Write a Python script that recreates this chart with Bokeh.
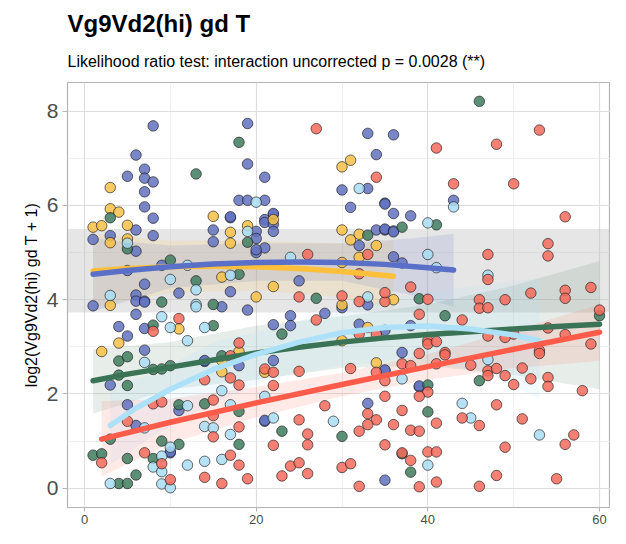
from bokeh.plotting import figure
from bokeh.models import Title, FixedTicker, BoxAnnotation, Range1d
from bokeh.embed import file_html
from bokeh.resources import INLINE

# ---------------- data ----------------
red_x = [27,34,26,33,32,38,41,53,48,43,50,56,54,54,47,47,52,56,56,59,46,49,
         11,8,18,17,14,17,18,15,8,9,15,5,15,18,7,2,9,17,18,10,14,16,19,
         25,30,32,35,35,40,39,27,32,34,40,40,42,39,21,22,25,31,34,35,37,38,41,22,40,39,35,28,33,37,34,33,36,25,26,32,38,39,41,22,26,35,40,41,37,38,24,25,23,26,30,31,32,39,41,
         46,47,60,44,54,56,47,49,50,53,53,59,41,42,45,47,47,48,49,50,51,52,54,54,58,48,44,46,51,57,56,49,48,46,55]
red_y = [7.63,6.60,4.96,4.96,4.55,4.27,7.22,7.60,7.30,6.46,6.46,5.76,5.19,4.93,4.96,4.43,4.14,4.20,4.03,4.26,4.00,4.00,
         3.60,3.33,3.08,2.81,2.30,2.34,2.19,1.87,1.79,1.83,1.54,1.42,1.09,1.30,0.75,0.54,0.52,0.70,0.49,0.18,0.23,0.10,0.20,
         4.06,4.08,3.96,3.96,4.15,4.01,3.69,3.57,3.27,3.27,3.13,3.06,2.88,2.86,2.53,2.46,2.48,2.54,2.46,2.28,2.64,2.60,2.64,2.18,2.04,1.95,1.95,1.75,1.58,1.65,1.45,1.35,1.35,1.45,1.15,1.21,1.23,1.21,1.38,0.91,0.92,0.92,0.77,0.77,0.75,0.59,0.47,0.54,0.26,0.31,0.44,0.52,0.04,0.03,0.13,
         3.82,3.83,3.78,3.57,3.40,3.26,3.23,3.20,3.27,2.92,2.86,3.06,3.11,2.83,2.61,2.49,2.39,2.54,2.39,2.20,2.55,2.32,2.35,2.16,2.07,1.77,1.49,1.33,1.47,1.13,0.93,0.87,0.27,0.04,0.20]

blue_x = [8,6,19,7,5,7,8,7,7,8,6,1,3,6,8,19,18,19,17,17,15,15,20,9,5,7,11,17,6,
          33,36,34,21,30,33,21,31,35,35,36,38,22,22,21,21,22,20,22,20,21,20,34,35,35,36,36,32,36,37,25,43,
          1,6,7,7,16,19,6,4,5,7,7,14,14,18,3,5,11,6,10,10,
          33,30,24,28,22,24,32,35,38,37,22,35,35,39,39,33,21,21,35]
blue_y = [7.69,7.07,7.74,6.77,6.62,6.58,6.50,6.29,5.97,5.73,5.48,5.28,5.36,5.03,5.36,6.88,6.11,6.11,5.74,5.76,5.48,5.23,5.00,4.73,4.62,4.33,4.14,4.17,4.10,
          7.53,7.50,7.08,6.60,6.33,6.36,6.11,5.96,6.05,6.03,5.83,5.78,5.81,5.83,5.70,5.64,5.60,5.45,5.45,5.30,5.10,5.06,5.48,5.48,5.50,5.46,5.44,5.15,4.91,4.78,4.40,6.11,
          3.87,3.97,3.97,3.95,3.85,3.78,3.69,3.43,3.23,3.39,2.93,2.69,2.71,2.60,2.19,1.77,1.65,1.33,0.75,0.77,
          3.89,3.83,3.66,3.71,3.47,3.45,3.48,3.35,3.45,2.88,2.71,2.49,2.51,2.15,2.17,1.80,1.42,1.44,0.17]

yellow_x = [3,3,4,1,2,5,3,5,15,17,17,19,16,20,30,31,22,30,31,32,34,32,30,22,36,3,11,4,2,16,18,16,30,30,33,34,21]
yellow_y = [6.38,5.93,5.86,5.54,5.57,5.58,5.21,5.29,5.77,5.43,5.20,5.57,4.48,4.06,6.82,6.96,5.70,5.48,5.27,5.39,5.15,4.90,4.79,4.28,4.00,3.88,3.38,3.08,2.90,2.71,2.90,2.47,3.13,3.89,3.41,2.66,2.46]

lblue_x = [5,20,19,12,17,10,13,3,32,40,24,40,41,33,43,47,13,13,9,10,14,12,7,16,12,17,7,14,15,17,10,9,8,9,12,14,16,3,9,10,37,21,22,29,40,47,44,45,53]
lblue_y = [5.20,6.07,5.45,4.73,4.52,4.43,4.21,4.09,6.36,5.63,4.90,4.96,4.68,4.06,5.97,4.52,3.90,3.85,3.64,3.41,3.41,3.13,2.67,2.07,1.75,1.77,1.28,1.31,1.28,1.14,0.87,0.68,0.45,0.35,0.49,0.57,0.61,0.10,0.09,0.01,2.32,1.95,1.49,1.42,0.49,2.73,1.80,1.49,1.13]

green_x = [18,13,3,5,19,10,18,13,33,37,41,27,39,46,9,15,8,15,4,5,8,9,10,16,4,5,11,14,18,3,9,11,18,1,2,5,8,6,4,5,42,23,40,23,30,37,38,40,60,46]
green_y = [7.34,6.67,5.74,5.08,5.22,4.84,4.54,4.40,5.37,5.54,5.59,4.03,4.02,8.21,3.95,3.90,3.46,3.45,2.70,2.79,2.52,2.53,2.60,2.81,2.40,2.18,1.77,1.79,1.63,1.04,1.00,0.93,0.93,0.70,0.73,0.63,0.63,0.28,0.10,0.10,3.66,3.27,2.19,1.21,1.10,0.73,0.34,1.62,3.66,2.28]

# fitted curves and confidence ribbons
blue_fit_x = [1, 5, 10, 15, 20, 25, 30, 35, 40, 43]
blue_fit_y = [4.54, 4.62, 4.70, 4.76, 4.79, 4.80, 4.79, 4.75, 4.68, 4.63]
blue_rib_x = [1, 10, 20, 30, 38, 43]
blue_rib_lo = [3.75, 4.25, 4.40, 4.40, 4.10, 3.85]
blue_rib_hi = [5.30, 5.15, 5.20, 5.20, 5.30, 5.40]

yellow_fit_x = [1, 5, 10, 15, 20, 25, 30, 36]
yellow_fit_y = [4.61, 4.66, 4.70, 4.71, 4.70, 4.66, 4.60, 4.50]
yellow_rib_x = [1, 10, 20, 30, 36]
yellow_rib_lo = [3.85, 4.15, 4.20, 4.05, 3.80]
yellow_rib_hi = [5.40, 5.25, 5.25, 5.20, 5.25]

green_fit_x = [1, 5, 10, 15, 20, 25, 30, 35, 40, 45, 50, 55, 60]
green_fit_y = [2.28, 2.42, 2.57, 2.72, 2.87, 2.99, 3.10, 3.19, 3.26, 3.32, 3.38, 3.43, 3.48]
green_rib_x = [1, 10, 20, 30, 40, 50, 60]
green_rib_lo = [1.58, 2.10, 2.30, 2.55, 2.60, 2.40, 2.10]
green_rib_hi = [2.95, 3.10, 3.45, 3.65, 3.90, 4.30, 4.82]

lblue_fit_x = [3, 6, 10, 15, 20, 25, 30, 35, 40, 45, 50, 53]
lblue_fit_y = [1.33, 1.70, 2.10, 2.52, 2.84, 3.10, 3.30, 3.41, 3.44, 3.38, 3.25, 3.13]
lblue_rib_x = [3, 8, 15, 22, 30, 38, 46, 53]
lblue_rib_lo = [0.50, 1.10, 1.80, 2.35, 2.60, 2.75, 2.50, 1.90]
lblue_rib_hi = [2.20, 2.40, 3.10, 3.40, 3.80, 4.10, 4.30, 4.45]

red_fit_x = [2, 10, 20, 30, 40, 50, 60]
red_fit_y = [1.04, 1.40, 1.81, 2.20, 2.58, 2.95, 3.31]
red_rib_x = [2, 10, 20, 30, 40, 50, 60]
red_rib_lo = [0.25, 0.95, 1.50, 1.95, 2.30, 2.55, 2.70]
red_rib_hi = [1.85, 1.90, 2.15, 2.45, 2.85, 3.35, 3.90]

band_bottom = 3.73
band_top = 5.50

x_ticks = [0, 20, 40, 60]
x_minor = [10, 30, 50]
y_ticks = [0, 2, 4, 6, 8]
y_minor = [1, 3, 5, 7]

title_text = "Vg9Vd2(hi) gd T"
subtitle_text = "Likelihood ratio test: interaction uncorrected  p = 0.0028 (**)"
ylabel_text = "log2(Vg9Vd2(hi) gd T + 1)"

# ---------------- colours ----------------
C_RED, L_RED = "#F46A5A", "#FF5B4A"
C_BLUE, L_BLUE = "#6272BF", "#5A6FC7"
C_YEL, L_YEL = "#F8C145", "#FEBF3A"
C_LB, L_LB = "#A9DDF3", "#ADE1F9"
C_GRN, L_GRN = "#3F7D5E", "#3A7356"

FONT = "Liberation Sans"

p = figure(width=610, height=528, output_backend="svg", toolbar_location=None,
           title=None,
           x_range=Range1d(-1.98, 61.28), y_range=Range1d(-0.41, 8.61),
           min_border_left=67, min_border_right=0, min_border_bottom=21, min_border_top=82)

p.add_layout(Title(text=subtitle_text, text_font_size="16px", text_font_style="normal",
                   text_font=FONT, text_color="black", align="left", standoff=25), "above")
p.add_layout(Title(text=title_text, text_font_size="24px", text_font_style="bold",
                   text_font=FONT, text_color="black", align="left", standoff=4), "above")

p.background_fill_color = "white"
p.border_fill_color = "white"
p.outline_line_color = "#B3B3B3"
p.outline_line_width = 1.2

p.xaxis.ticker = FixedTicker(ticks=x_ticks, minor_ticks=x_minor)
p.yaxis.ticker = FixedTicker(ticks=y_ticks, minor_ticks=y_minor)
for ax in (p.xaxis, p.yaxis):
    ax.axis_line_color = None
    ax.major_tick_line_color = "#B3B3B3"
    ax.major_tick_out = 5
    ax.major_tick_in = 0
    ax.minor_tick_line_color = None
    ax.major_label_text_color = "#4D4D4D"
    ax.major_label_text_font = FONT
p.xaxis.major_tick_out = 4
p.xaxis.major_label_text_font_size = "13px"
p.xaxis.major_label_standoff = 3
p.yaxis.major_label_text_font_size = "21px"
p.yaxis.major_label_standoff = 4
p.yaxis.axis_label = ylabel_text
p.yaxis.axis_label_text_font = FONT
p.yaxis.axis_label_text_font_size = "16px"
p.yaxis.axis_label_text_font_style = "normal"
p.yaxis.axis_label_text_color = "black"
p.yaxis.axis_label_standoff = 4

for g in (p.xgrid, p.ygrid):
    g.grid_line_color = "#DEDEDE"
    g.grid_line_width = 1.2
    g.minor_grid_line_color = "#EBEBEB"
    g.minor_grid_line_width = 0.8

band = BoxAnnotation(bottom=band_bottom, top=band_top, fill_color="#BDBDBD",
                     fill_alpha=0.38, line_color=None, level="underlay")
p.add_layout(band)

# ribbons
p.varea(x=yellow_rib_x, y1=yellow_rib_lo, y2=yellow_rib_hi, fill_color=L_YEL, fill_alpha=0.14)
p.varea(x=blue_rib_x, y1=blue_rib_lo, y2=blue_rib_hi, fill_color=L_BLUE, fill_alpha=0.14)
p.varea(x=green_rib_x, y1=green_rib_lo, y2=green_rib_hi, fill_color=L_GRN, fill_alpha=0.12)
p.varea(x=lblue_rib_x, y1=lblue_rib_lo, y2=lblue_rib_hi, fill_color=L_LB, fill_alpha=0.16)
p.varea(x=red_rib_x, y1=red_rib_lo, y2=red_rib_hi, fill_color=L_RED, fill_alpha=0.13)

# points
for xs, ys, c in ((blue_x, blue_y, C_BLUE), (yellow_x, yellow_y, C_YEL),
                  (green_x, green_y, C_GRN), (lblue_x, lblue_y, C_LB),
                  (red_x, red_y, C_RED)):
    p.scatter(xs, ys, size=10.5, fill_color=c, fill_alpha=0.85,
              line_color="#1A1A1A", line_alpha=0.65, line_width=1)

# fitted lines
for xs, ys, c in ((green_fit_x, green_fit_y, L_GRN), (lblue_fit_x, lblue_fit_y, L_LB),
                  (red_fit_x, red_fit_y, L_RED), (yellow_fit_x, yellow_fit_y, L_YEL),
                  (blue_fit_x, blue_fit_y, L_BLUE)):
    p.line(xs, ys, line_color=c, line_width=5.5, line_cap="round", line_join="round")

open("out.html", "w").write(file_html(p, INLINE))
